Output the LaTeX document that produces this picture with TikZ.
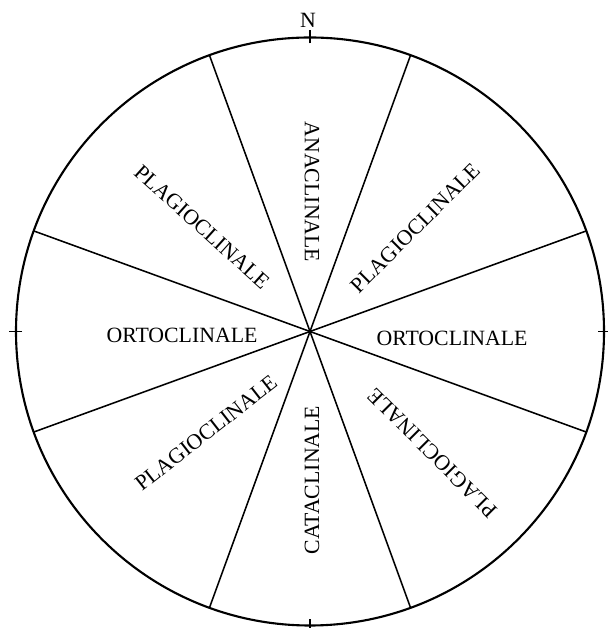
\documentclass[tikz,border=0pt]{standalone}
\usepackage{fontspec}
\setmainfont{Liberation Serif}
\usepackage{tikz}
\usetikzlibrary{calc}

\tikzset{
    sector/.style={line width=1.1pt},
    rim/.style={line width=1.5pt},
    sectorname/.style={inner sep=0pt, font=\fontsize{15.5}{18}\selectfont}
}

\begin{document}
\begin{tikzpicture}[x=0.025cm, y=0.025cm]
    \useasboundingbox (0,0) rectangle (607,628);
    \coordinate (O) at (310,296.5);

    \draw[rim] (O) circle[radius=294];
    \foreach \a in {20,70,110,160}
        \draw[sector] ([shift={(\a:294)}]O) -- ([shift={(\a+180:294)}]O);
    \foreach \a in {0,90,180,270}
        \draw[sector] ([shift={(\a:288)}]O) -- ([shift={(\a:301)}]O);

    \node[sectorname] (north) at (308, 608) {N};

    \node[sectorname, rotate=-90] (ana) at (312, 436) {ANACLINALE};
    \node[sectorname, rotate=90] (cata) at (312, 148) {CATACLINALE};
    \node[sectorname] (ortoW) at (182, 293) {ORTOCLINALE};
    \node[sectorname] (ortoE) at (452, 290) {ORTOCLINALE};
    \node[sectorname, rotate=-42] (plagNW) at (202, 401) {PLAGIOCLINALE};
    \node[sectorname, rotate=45] (plagNE) at (415, 400) {PLAGIOCLINALE};
    \node[sectorname, rotate=38] (plagSW) at (206, 195) {PLAGIOCLINALE};
    \node[sectorname, rotate=135] (plagSE) at (432, 175) {PLAGIOCLINALE};
\end{tikzpicture}
\end{document}
